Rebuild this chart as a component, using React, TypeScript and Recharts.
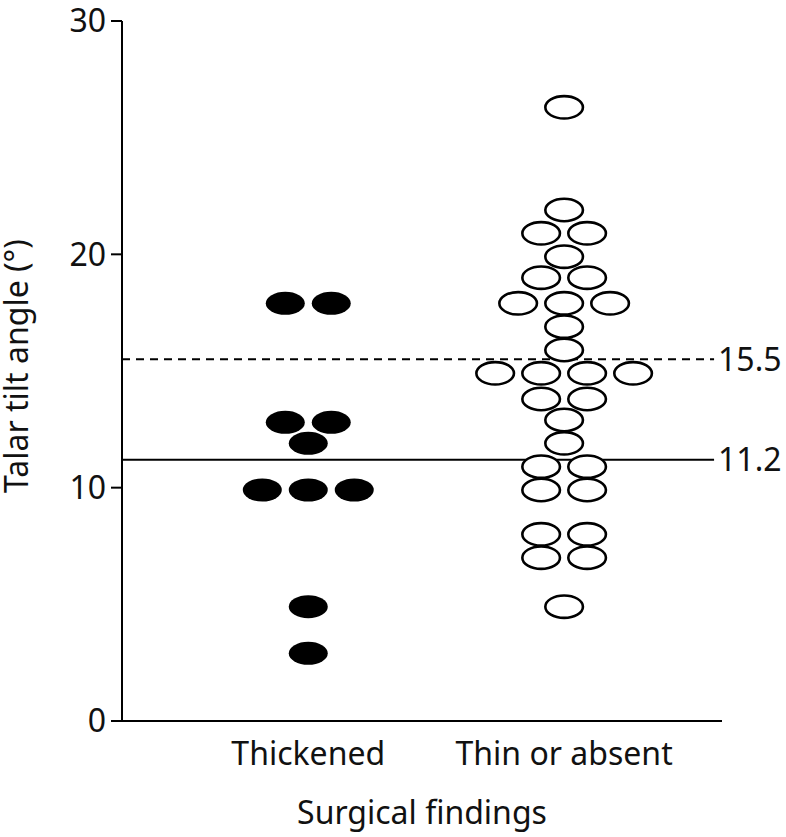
import { ScatterChart, Scatter, XAxis, YAxis, ReferenceLine } from 'recharts';

const categories = ['Thickened', 'Thin or absent'];
const thickenedValues = [17.9, 17.9, 12.8, 12.8, 11.9, 9.9, 9.9, 9.9, 4.9, 2.9];
const thinValues = [
  26.3, 21.9, 20.9, 20.9, 19.9, 19.0, 19.0, 17.9, 17.9, 17.9, 16.9, 15.9,
  14.9, 14.9, 14.9, 14.9, 13.8, 13.8, 12.9, 11.9, 10.9, 10.9, 9.9, 9.9,
  8.0, 8.0, 7.0, 7.0, 4.9,
];
const yTicks = [0, 10, 20, 30];
const cutoffs = [
  { value: 15.5, label: '15.5', dashed: true },
  { value: 11.2, label: '11.2', dashed: false },
];

const FONT = '"Noto Sans", sans-serif';
const INK = '#111';
// horizontal gap between neighbouring dots, in category units
const SLOT = 23 / 256;
const X_MIN = 0.272;
const X_MAX = 2.617;
const LINE_END = 2.586;

// lay equal values side by side, centred on the category
function swarm(values: number[], group: number) {
  const counts: Record<string, number> = {};
  values.forEach((v) => (counts[v] = (counts[v] || 0) + 1));
  const seen: Record<string, number> = {};
  return values.map((v) => {
    const k = seen[v] || 0;
    seen[v] = k + 1;
    const slot = 2 * k - (counts[v] - 1);
    return { x: group + slot * SLOT, y: v };
  });
}

const thickData = swarm(thickenedValues, 1);
const thinData = swarm(thinValues, 2);

function FilledDot(props: any) {
  return <ellipse cx={props.cx} cy={props.cy} rx={19.5} ry={11.5} fill="#000" />;
}

function OpenDot(props: any) {
  return (
    <ellipse
      cx={props.cx}
      cy={props.cy}
      rx={18.8}
      ry={11.2}
      fill="#fff"
      stroke="#000"
      strokeWidth={2.6}
    />
  );
}

export default function App() {
  return (
    <div style={{ position: 'absolute', left: 0, top: 0, width: 786, height: 837, background: '#fff' }}>
      <ScatterChart width={786} height={837} margin={{ top: 21, right: 64, bottom: 0, left: 42 }}>
        <XAxis
          type="number"
          dataKey="x"
          domain={[X_MIN, X_MAX]}
          ticks={[1, 2]}
          allowDataOverflow
          height={116}
          tickSize={0}
          tickMargin={21}
          tickLine={false}
          axisLine={{ stroke: '#000', strokeWidth: 2 }}
          tickFormatter={(v: number) => categories[v - 1]}
          tick={{ fill: INK, fontSize: 32, fontFamily: FONT }}
          label={{
            content: (p: any) => {
              const vb = p.viewBox;
              return (
                <text
                  x={vb.x + vb.width / 2}
                  y={vb.y + 103}
                  textAnchor="middle"
                  fill={INK}
                  fontSize={32}
                  fontFamily={FONT}
                >
                  Surgical findings
                </text>
              );
            },
          }}
        />
        <YAxis
          type="number"
          dataKey="y"
          domain={[0, 30]}
          ticks={yTicks}
          width={80}
          tickSize={11}
          tickMargin={5}
          axisLine={{ stroke: '#000', strokeWidth: 2 }}
          tickLine={{ stroke: '#000', strokeWidth: 2 }}
          tick={{ fill: INK, fontSize: 32, fontFamily: FONT }}
          label={{
            content: (p: any) => {
              const vb = p.viewBox;
              const cy = vb.y + vb.height / 2 - 5;
              return (
                <text
                  x={28}
                  y={cy}
                  transform={`rotate(-90, 28, ${cy})`}
                  textAnchor="middle"
                  fill={INK}
                  fontSize={32}
                  fontFamily={FONT}
                >
                  Talar tilt angle (°)
                </text>
              );
            },
          }}
        />
        {cutoffs.map((c) => (
          <ReferenceLine
            key={c.label}
            segment={[
              { x: X_MIN, y: c.value },
              { x: LINE_END, y: c.value },
            ]}
            stroke="#000"
            strokeWidth={2}
            strokeDasharray={c.dashed ? '8 6' : undefined}
            label={{
              value: c.label,
              position: 'right',
              offset: 4,
              fill: INK,
              fontSize: 32,
              fontFamily: FONT,
            }}
          />
        ))}
        <Scatter data={thickData} shape={FilledDot} isAnimationActive={false} />
        <Scatter data={thinData} shape={OpenDot} isAnimationActive={false} />
      </ScatterChart>
    </div>
  );
}
